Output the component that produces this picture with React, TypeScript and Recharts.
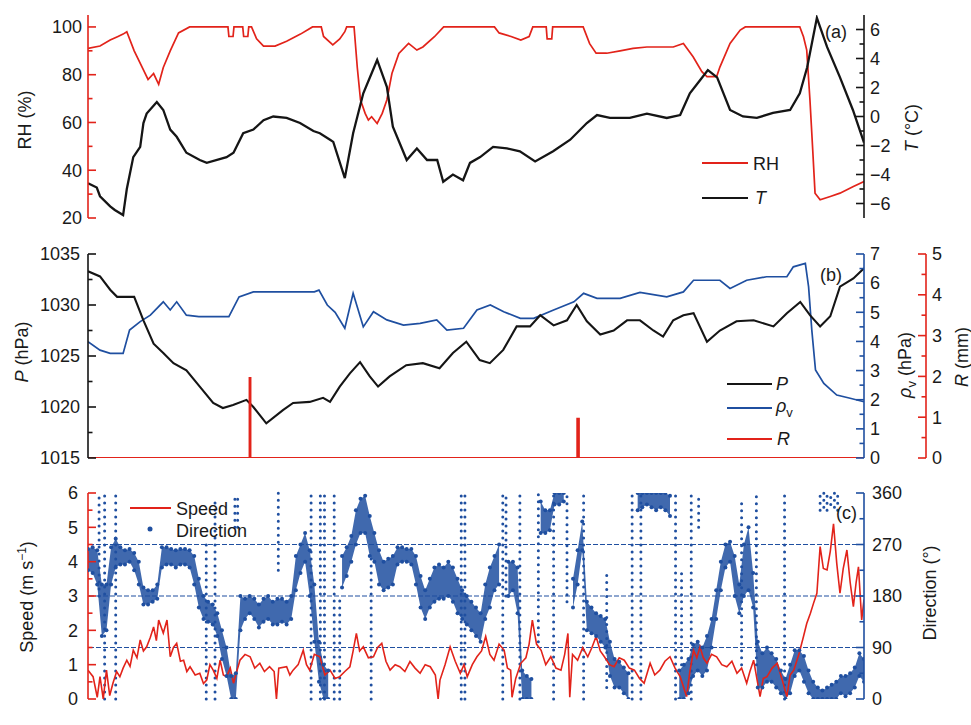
import {
  ComposedChart,
  Line,
  Area,
  Scatter,
  XAxis,
  YAxis,
  ReferenceLine,
} from "recharts";

const RED = "#e2231a";
const BLUE = "#1f4fa0";
const INK = "#151515";
const TEXT = "#1a1a1a";
const FONT = '"Liberation Sans", Arial, Helvetica, sans-serif';
const W = 971;

// time axis: hours after 1 Dec 00:00
const hourTicks = [0, 12, 24, 36, 48, 60, 72, 84, 96, 108, 120, 132, 144, 156, 168];
const dayNames = ["1 Dec", "2 Dec", "3 Dec", "4 Dec", "5 Dec", "6 Dec", "7 Dec", "8 Dec"];

const rhTicks = [20, 30, 40, 50, 60, 70, 80, 90, 100];
const tTicks = [-6, -5, -4, -3, -2, -1, 0, 1, 2, 3, 4, 5, 6];
const pTicks = [1015, 1017.5, 1020, 1022.5, 1025, 1027.5, 1030, 1032.5, 1035];
const rhoTicks = [0, 0.5, 1, 1.5, 2, 2.5, 3, 3.5, 4, 4.5, 5, 5.5, 6, 6.5, 7];
const rainTicks = [0, 0.5, 1, 1.5, 2, 2.5, 3, 3.5, 4, 4.5, 5];
const speedTicks = [0, 0.5, 1, 1.5, 2, 2.5, 3, 3.5, 4, 4.5, 5, 5.5, 6];
const dirTicks = [0, 45, 90, 135, 180, 225, 270, 315, 360];
const dirGrid = [90, 180, 270];

// (a) relative humidity, %
const rhHours = [
  0, 2.6, 4.8, 6.5, 7.6, 8.4, 10, 12, 13, 14.2,
  15.3, 16.3, 17.8, 19.6, 22, 30.3, 30.5, 31.4, 31.6, 33.5,
  33.7, 34.6, 34.8, 35.4, 36.5, 38, 40.5, 43, 46, 48.6,
  50.5, 51, 53, 54.5, 55.6, 56, 57.6, 58.3, 59, 60,
  60.7, 61.4, 62.6, 63.7, 64.7, 65.8, 67.3, 69.4, 71.2, 72.5,
  75, 77, 88, 89, 91.6, 93.7, 95.5, 96.3, 99.2, 99.4,
  100.4, 100.6, 107.2, 108.6, 110, 112.3, 115.2, 118, 121, 126.7,
  128.9, 131, 132.9, 134, 136.1, 136.8, 139, 141.2, 142.3, 154.1,
  154.9, 155.6, 156.3, 156.9, 157.4, 158.5, 160.7, 162.8, 165.7, 168,
];
const rhValues = [
  91, 92, 94.5, 96, 97, 98, 90, 82, 78, 80.5,
  76, 83, 90, 97.5, 100, 100, 96, 96, 100, 100,
  96, 96, 100, 100, 95, 92, 92, 94, 97, 100,
  100, 96, 92.5, 95, 98, 100, 100, 83, 69.4, 63.8,
  61, 62.4, 59.6, 63.8, 69.4, 80.5, 88.9, 93.1, 90.3, 91.6,
  95.9, 100, 100, 97.5, 96, 94.5, 96, 100, 100, 95,
  95, 100, 100, 93, 89, 89, 90, 91, 91.6, 91.6,
  93.1, 87.5, 81.3, 79.2, 79.2, 83.2, 93.1, 98.7, 100, 100,
  95.9, 90.3, 69.4, 48.5, 30.4, 27.6, 29, 30.4, 33.2, 35.3,
];

// (a) temperature, °C
const tHours = [
  0, 1.9, 2.6, 4.8, 5.8, 7.6, 8.4, 9.8, 11.3, 12,
  12.7, 14.9, 16.3, 17.8, 19.2, 21.3, 24.2, 25.7, 30, 31.5,
  33.6, 35.8, 38, 40.1, 43, 45.9, 48.8, 50.2, 52.4, 53.1,
  55.6, 57.4, 59.6, 62.6, 64.7, 66, 69, 71.2, 73.4, 75.6,
  76.9, 79, 81.2, 82.7, 84.9, 87.7, 90.7, 93.5, 96.8, 100.7,
  104.4, 108, 110.2, 113, 117.3, 121, 125.3, 128.2, 130.3, 132.5,
  134.2, 136.2, 139, 141.8, 144.8, 148.3, 152, 154.1, 155.7, 157.8,
  160, 162.8, 165.6, 168,
];
const tValues = [
  -4.6, -4.9, -5.5, -6.2, -6.45, -6.8, -5.0, -2.8, -2.1, -0.45,
  0.2, 1.0, 0.45, -0.9, -1.4, -2.5, -3.0, -3.2, -2.8, -2.5,
  -1.15, -0.9, -0.25, 0.0, -0.1, -0.45, -1.0, -1.15, -1.6, -1.75,
  -4.25, -1.15, 1.6, 3.9, 2.05, -0.7, -3.0, -2.2, -3.0, -3.0,
  -4.5, -4.0, -4.4, -3.2, -2.8, -2.1, -2.2, -2.4, -3.1, -2.4,
  -1.6, -0.45, 0.1, -0.1, -0.1, 0.2, -0.1, 0.1, 1.6, 2.5,
  3.2, 2.7, 0.45, 0.0, -0.1, 0.25, 0.45, 1.6, 3.4, 6.8,
  4.8, 2.7, 0.45, -1.8,
];

// (b) pressure, hPa
const pHours = [
  0, 2.6, 4.8, 6.3, 10, 12, 14.2, 16.3, 18.5, 21.3,
  24.2, 27.1, 29.2, 31.4, 34.3, 35.8, 38.6, 42.2, 44.4, 48,
  50.9, 52.4, 54.5, 56.7, 58.9, 61, 62.8, 65.3, 68.9, 72.5,
  76.1, 79, 81.9, 84.8, 87, 89.9, 92.8, 95.7, 97.9, 100.8,
  103.7, 105.8, 108, 110.9, 113.8, 116.7, 119.5, 122.4, 124.5, 126.7,
  128.9, 131.1, 134, 136.8, 140.4, 144.1, 148.4, 151.3, 154.2, 156.3,
  158.5, 160.7, 162.8, 165.7, 168,
];
const pValues = [
  1033.3, 1032.8, 1031.5, 1030.8, 1030.8, 1028.5, 1026.2, 1025.3, 1024.3, 1023.6,
  1022.0, 1020.4, 1019.9, 1020.2, 1020.7, 1020.0, 1018.4, 1019.7, 1020.4, 1020.5,
  1020.9, 1020.5, 1022.0, 1023.3, 1024.4, 1023.0, 1022.0, 1023.0, 1024.1, 1024.3,
  1023.8, 1025.3, 1026.4, 1024.6, 1024.3, 1025.6, 1027.9, 1027.9, 1029.0, 1028.0,
  1028.5, 1030.0, 1028.4, 1027.1, 1027.5, 1028.5, 1028.5, 1027.5, 1026.9, 1028.5,
  1029.0, 1029.2, 1026.4, 1027.5, 1028.4, 1028.5, 1027.9, 1029.2, 1030.3, 1029.0,
  1027.9, 1028.9, 1031.8, 1032.6, 1033.6,
];

// (b) vapour pressure, hPa
const rhoHours = [
  0, 2.6, 4.8, 7.6, 9, 11.3, 13.5, 16.3, 17.8, 19.2,
  21.3, 24, 30.5, 32.7, 35.8, 49, 50, 51.8, 53.5, 55.6,
  57.4, 59.6, 61.8, 64.7, 68.3, 71.9, 75.5, 77.7, 81.3, 84.2,
  87.1, 90, 93.6, 96.5, 100.8, 105.2, 107.3, 110.2, 115.2, 119.5,
  125.3, 128.9, 131.1, 136.8, 139, 142.6, 146.9, 151.3, 152.7, 155.3,
  156, 156.7, 157.5, 159.3, 162.1, 165, 168,
];
const rhoValues = [
  3.99, 3.7, 3.59, 3.59, 4.39, 4.68, 4.9, 5.36, 5.08, 5.36,
  4.9, 4.85, 4.85, 5.53, 5.7, 5.7, 5.76, 5.25, 5.0, 4.45,
  5.65, 4.5, 5.02, 4.74, 4.56, 4.62, 4.74, 4.39, 4.45, 5.08,
  5.25, 5.02, 4.79, 4.79, 5.08, 5.36, 5.65, 5.48, 5.48, 5.68,
  5.53, 5.7, 6.1, 6.1, 5.82, 6.1, 6.22, 6.22, 6.56, 6.68,
  5.88, 4.39, 3.02, 2.56, 2.16, 2.05, 1.93,
];

// (b) rain, mm
const rainHours = [0, 35.0, 35.0, 35.15, 35.15, 105.95, 105.95, 106.25, 106.25, 168];
const rainValues = [0, 0, 1.96, 1.96, 0, 0, 0.96, 0.96, 0, 0];

// (c) wind speed, m/s
const speedHours = [
  0, 1.1, 2.0, 2.6, 3.3, 4, 4.7, 5.4, 6.2, 6.9, 7.6, 8.4, 9.1, 9.8, 10.6, 11.3, 12, 12.7, 13.5, 14.2,
  14.8, 15.3, 16.3, 17.1, 17.8, 18.5, 19.2, 20, 20.7, 21.4, 22.1, 23.2, 24.2, 25, 25.7, 26.4, 27.1, 27.9, 28.6, 29.3,
  30, 30.8, 31.5, 32.2, 32.9, 34, 35.1, 36.1, 37.2, 38.2, 39.3, 40.3, 40.8, 41.3, 43, 43.7, 44.4, 45.5, 46.6, 47.3,
  48, 49, 50.2, 51.3, 52.4, 53.5, 54.5, 55.6, 56.7, 57.4, 58.1, 58.8, 59.6, 60.7, 61.8, 62.7, 63.6, 64.5, 65.4, 66.5,
  67.5, 68.6, 69.7, 70.8, 71.9, 73, 74.1, 75.2, 75.8, 76.2, 77.3, 78.4, 79.5, 80.6, 81.4, 82.1, 83.2, 84.2, 85.2, 86.1,
  87, 87.9, 89, 90.1, 90.8, 91.5, 91.8, 92.6, 93.7, 94.8, 95.5, 96.2, 97.1, 98.1, 99.1, 100.2, 101.3, 102.4, 103.2, 103.9,
  104.3, 104.9, 106, 107.1, 108.2, 109.1, 110, 110.9, 111.8, 112.9, 113.9, 115, 116.1, 117.2, 118.3, 119.4, 120.4, 121.7, 122.7, 123.8,
  124.9, 126, 127.1, 128.2, 129.6, 130.3, 131.1, 131.8, 132.5, 133.2, 134, 135, 136.1, 137.2, 138.3, 139.4, 140.5, 141.5, 142.6, 143.3,
  144.1, 145.5, 146.2, 147, 148.1, 149.2, 150.2, 151.3, 152, 152.8, 153.9, 154.9, 155.6, 156.4, 157.1, 157.8, 158.5, 159.2, 160, 160.7,
  161.4, 162.1, 162.8, 163.5, 164.3, 165, 165.7, 166.3, 166.8, 167.5, 168,
];
const speedValues = [
  0.84, 0.65, 0.05, 0.65, 0.0, 0.84, 0.1, 0.46, 0.8, 0.65, 0.9, 1.13, 0.95, 1.42, 1.2, 1.72, 1.4, 1.52, 1.8, 2.1,
  1.7, 2.3, 1.92, 2.3, 1.23, 1.5, 1.62, 1.1, 1.13, 0.8, 0.94, 0.7, 0.75, 0.45, 0.55, 1.0, 0.84, 0.6, 1.13, 0.7,
  0.65, 0.9, 0.46, 0.8, 1.13, 1.3, 1.23, 0.9, 1.04, 0.8, 0.94, 0.8, 0.0, 0.9, 0.94, 0.7, 0.84, 1.0, 1.42, 1.0,
  0.84, 1.3, 1.23, 0.7, 0.84, 0.6, 0.65, 0.8, 0.94, 1.4, 1.91, 1.4, 1.52, 1.2, 1.23, 1.5, 1.62, 1.1, 0.84, 1.0,
  0.94, 0.8, 1.09, 0.9, 0.75, 1.0, 0.94, 0.7, 0.0, 0.55, 1.0, 1.52, 1.1, 0.75, 1.0, 0.65, 1.0, 1.23, 1.4, 1.82,
  1.3, 1.13, 1.6, 1.42, 0.9, 0.84, 0.05, 0.6, 1.04, 1.2, 1.6, 2.3, 1.6, 1.42, 1.0, 1.23, 0.9, 0.84, 1.3, 1.91,
  0.05, 1.3, 1.13, 1.5, 1.23, 1.5, 1.82, 1.4, 1.23, 1.0, 0.94, 1.2, 1.13, 0.9, 0.84, 0.6, 0.46, 1.04, 0.7, 0.84,
  1.1, 1.23, 0.9, 0.65, 0.07, 0.8, 1.42, 1.2, 1.52, 1.2, 1.04, 1.3, 1.23, 1.0, 0.94, 1.1, 0.75, 0.9, 0.46, 0.8,
  1.13, 0.07, 0.6, 0.65, 0.9, 1.04, 0.6, 0.07, 0.7, 0.84, 1.3, 1.82, 2.2, 2.5, 2.8, 3.08, 4.44, 3.8, 3.76, 4.3,
  5.1, 3.95, 3.08, 3.8, 4.34, 3.4, 2.69, 3.4, 3.85, 2.3, 2.9,
];

// (c) wind direction band per hour (lower / upper edge of the dot cloud), degrees
const dirLow = [
  225, 220, 200, 110, 120, 200, 230, 235, 235, 240, 225, 200,
  165, 165, 170, 175, 230, 235, 235, 230, 235, 235, 230, 200,
  160, 140, 135, 130, 110, 70, 40, 0, 0, 120, 140, 150,
  140, 125, 135, 140, 130, 130, 135, 130, 140, 190, 220, 240,
  180, 100, 30, 0, 0, null, null, 195, 215, 240, 270, 290,
  290, 250, 240, 200, 190, 195, 200, 235, 240, 240, 235, 200,
  160, 140, 160, 170, 175, 175, 180, 170, 150, 140, 130, 120,
  110, 100, 140, 160, 190, 200, null, 180, 190, 150, 0, 0,
  0, null, 290, 290, 295, 340, 340, 345, null, 160, 200, 260,
  120, 115, 110, 100, 90, 40, 20, 20, 10, 0, null, 330,
  335, 340, 335, 330, 335, 330, 320, null, 0, 0, 10, 40,
  50, 40, 50, 90, 140, 190, 230, 240, 180, 150, 180, 190,
  160, 20, 20, 30, 30, 20, 10, 0, 10, 40, 50, 30,
  10, 0, 0, 0, 0, 0, 0, 10, 5, 10, 20, 40, 30,
];
const dirHigh = [
  262, 265, 260, 200, 200, 265, 280, 265, 260, 262, 255, 240,
  195, 190, 190, 200, 265, 265, 262, 260, 262, 262, 260, 250,
  210, 180, 170, 165, 150, 120, 90, 40, 45, 180, 175, 180,
  175, 165, 175, 180, 170, 175, 175, 170, 180, 250, 270, 290,
  260, 200, 100, 60, 50, null, null, 250, 265, 285, 330, 350,
  355, 320, 290, 260, 240, 245, 250, 265, 265, 262, 262, 250,
  215, 190, 210, 230, 235, 230, 240, 230, 210, 190, 180, 170,
  160, 150, 200, 230, 250, 270, null, 240, 240, 230, 50, 40,
  35, null, 345, 330, 330, 360, 360, 360, null, 210, 260, 310,
  170, 160, 150, 145, 140, 100, 70, 65, 55, 45, null, 360,
  360, 360, 360, 360, 360, 360, 355, null, 50, 60, 70, 95,
  100, 90, 110, 140, 190, 240, 270, 275, 250, 200, 270, 300,
  220, 100, 80, 90, 80, 70, 50, 35, 60, 85, 85, 75,
  50, 30, 20, 15, 20, 25, 30, 40, 40, 45, 55, 80, 70,
];

// (c) dotted streaks where the direction wraps through 0/360
const streakHours = [
  2.4, 3.6, 6.0, 25.6, 27.5, 31.8, 32.4, 41.2, 48.3, 50.3,
  51.2, 53.3, 54.5, 61.3, 80.8, 81.6, 89.8, 90.5, 93.5, 97.5,
  100.8, 103.7, 107.3, 112.3, 117.8, 119.7, 127.2, 128.5, 130.6, 132.2,
  141.5, 144.7, 150.8, 158.5, 159.3, 160.0, 160.8, 161.6, 162.3,
];
const streakLow = [
  180, 0, 0, 0, 0, 300, 300, 225, 0, 0,
  0, 0, 0, 0, 0, 0, 0, 180, 0, 100,
  0, 170, 0, 20, 0, 0, 0, 60, 0, 300,
  60, 60, 0, 330, 335, 330, 340, 335, 330,
];
const streakHigh = [
  360, 360, 355, 280, 350, 360, 360, 360, 355, 360,
  360, 360, 180, 250, 360, 360, 360, 360, 360, 360,
  360, 360, 360, 225, 360, 360, 360, 230, 360, 360,
  345, 360, 360, 360, 360, 360, 360, 360, 360,
];

const zip = (hs: number[], vs: number[]) => hs.map((h, i) => ({ h, v: vs[i] }));

const rhData = zip(rhHours, rhValues);
const tData = zip(tHours, tValues);
const pData = zip(pHours, pValues);
const rhoData = zip(rhoHours, rhoValues);
const rainData = zip(rainHours, rainValues);
const speedData = zip(speedHours, speedValues);
const dirBand = dirLow.map((lo, i) => ({
  h: i,
  band: lo == null || dirHigh[i] == null ? null : [lo, dirHigh[i]],
}));
const dirDots = dirBand.flatMap((p) =>
  p.band ? [{ h: p.h, d: p.band[0] }, { h: p.h, d: p.band[1] }] : []
);

const isMultiple = (v: number, step: number) =>
  Math.abs(v / step - Math.round(v / step)) < 1e-6;
const signed = (v: number) => (v < 0 ? "\u2212" + Math.abs(v) : String(v));

// ticks point into the plot, labels sit outside
const yTick =
  (side: "left" | "right", color: string, step: number, gap: number, fmt = signed) =>
  (props: any) => {
    const { x, y, payload } = props;
    const v = Number(payload.value);
    const major = isMultiple(v, step);
    const dir = side === "left" ? 1 : -1;
    return (
      <g>
        <line x1={x} y1={y} x2={x + dir * (major ? 8 : 4.5)} y2={y} stroke={color} strokeWidth={1.6} />
        {major && (
          <text
            x={x - dir * gap}
            y={y}
            dy="0.35em"
            textAnchor={side === "left" ? "end" : "start"}
            fontFamily={FONT}
            fontSize={18}
            fill={TEXT}
          >
            {fmt(v)}
          </text>
        )}
      </g>
    );
  };

const xTick = (side: "top" | "bottom", labels: boolean) => (props: any) => {
  const { x, y, payload } = props;
  const v = Number(payload.value);
  const dir = side === "bottom" ? -1 : 1;
  return (
    <g>
      <line x1={x} y1={y} x2={x} y2={y + dir * 8} stroke={INK} strokeWidth={1.6} />
      {labels && isMultiple(v, 24) && (
        <text x={x} y={y + 23} textAnchor="middle" fontFamily={FONT} fontSize={18} fill={TEXT}>
          {dayNames[Math.round(v / 24)]}
        </text>
      )}
    </g>
  );
};

const timeAxes = (bottomColor: string, labels: boolean) => [
  <XAxis
    key="xb"
    xAxisId="b"
    type="number"
    dataKey="h"
    domain={[0, 168]}
    ticks={hourTicks}
    interval={0}
    allowDataOverflow
    height={0}
    tickSize={0}
    tickMargin={0}
    tickLine={false}
    axisLine={{ stroke: bottomColor, strokeWidth: 1.6 }}
    tick={xTick("bottom", labels)}
  />,
  <XAxis
    key="xt"
    xAxisId="t"
    orientation="top"
    type="number"
    dataKey="h"
    domain={[0, 168]}
    ticks={hourTicks}
    interval={0}
    allowDataOverflow
    height={0}
    tickSize={0}
    tickMargin={0}
    tickLine={false}
    axisLine={{ stroke: INK, strokeWidth: 1.6 }}
    tick={xTick("top", false)}
  />,
];

const yCommon = {
  type: "number" as const,
  interval: 0 as const,
  allowDataOverflow: true,
  tickSize: 0,
  tickMargin: 0,
  tickLine: false,
};

const PanelA = () => (
  <ComposedChart width={W} height={240} margin={{ top: 15, right: 0, bottom: 22, left: 0 }}>
    {timeAxes(INK, false)}
    <YAxis
      {...yCommon}
      yAxisId="rh"
      width={88}
      domain={[20, 105]}
      ticks={rhTicks}
      axisLine={{ stroke: RED, strokeWidth: 1.6 }}
      tick={yTick("left", RED, 20, 6)}
    />
    <YAxis
      {...yCommon}
      yAxisId="t"
      orientation="right"
      width={107}
      domain={[-7, 7]}
      ticks={tTicks}
      axisLine={{ stroke: INK, strokeWidth: 1.6 }}
      tick={yTick("right", INK, 2, 6)}
    />
    <Line xAxisId="b" yAxisId="rh" data={rhData} dataKey="v" type="linear" stroke={RED} strokeWidth={1.7} dot={false} isAnimationActive={false} />
    <Line xAxisId="b" yAxisId="t" data={tData} dataKey="v" type="linear" stroke={INK} strokeWidth={2.3} dot={false} isAnimationActive={false} />
  </ComposedChart>
);

// right axes on the same side are stacked by id: "vp" next to the plot, "zr" outside it
const PanelB = () => (
  <ComposedChart width={W} height={240} margin={{ top: 14, right: 0, bottom: 22, left: 0 }}>
    {timeAxes(RED, false)}
    <YAxis
      {...yCommon}
      yAxisId="p"
      width={88}
      domain={[1015, 1035]}
      ticks={pTicks}
      axisLine={{ stroke: INK, strokeWidth: 1.6 }}
      tick={yTick("left", INK, 5, 8)}
    />
    <YAxis
      {...yCommon}
      yAxisId="vp"
      orientation="right"
      width={62}
      domain={[0, 7]}
      ticks={rhoTicks}
      axisLine={{ stroke: BLUE, strokeWidth: 1.6 }}
      tick={yTick("right", BLUE, 1, 6)}
    />
    <YAxis
      {...yCommon}
      yAxisId="zr"
      orientation="right"
      width={45}
      domain={[0, 5]}
      ticks={rainTicks}
      axisLine={{ stroke: RED, strokeWidth: 1.6 }}
      tick={yTick("right", RED, 1, 6)}
    />
    <Line xAxisId="b" yAxisId="vp" data={rhoData} dataKey="v" type="linear" stroke={BLUE} strokeWidth={1.7} dot={false} isAnimationActive={false} />
    <Line xAxisId="b" yAxisId="p" data={pData} dataKey="v" type="linear" stroke={INK} strokeWidth={2.1} dot={false} isAnimationActive={false} />
    <Line xAxisId="b" yAxisId="zr" data={rainData} dataKey="v" type="linear" stroke={RED} strokeWidth={2.2} dot={false} isAnimationActive={false} />
  </ComposedChart>
);

const PanelC = () => (
  <ComposedChart width={W} height={245} margin={{ top: 13, right: 0, bottom: 26, left: 0 }}>
    {timeAxes(INK, true)}
    <YAxis
      {...yCommon}
      yAxisId="spd"
      width={88}
      domain={[0, 6]}
      ticks={speedTicks}
      axisLine={{ stroke: RED, strokeWidth: 1.6 }}
      tick={yTick("left", RED, 1, 10)}
    />
    <YAxis
      {...yCommon}
      yAxisId="dir"
      orientation="right"
      width={107}
      domain={[0, 360]}
      ticks={dirTicks}
      axisLine={{ stroke: BLUE, strokeWidth: 1.6 }}
      tick={yTick("right", BLUE, 90, 8)}
    />
    {dirGrid.map((g) => (
      <ReferenceLine key={g} xAxisId="b" yAxisId="dir" y={g} stroke={BLUE} strokeWidth={1.2} strokeDasharray="5 2" />
    ))}
    <Area
      xAxisId="b"
      yAxisId="dir"
      data={dirBand}
      dataKey="band"
      type="linear"
      stroke="none"
      fill={BLUE}
      fillOpacity={0.85}
      connectNulls={false}
      isAnimationActive={false}
    />
    <Scatter
      xAxisId="b"
      yAxisId="dir"
      data={dirDots}
      dataKey="d"
      fill={BLUE}
      isAnimationActive={false}
      shape={(p: any) => <circle cx={p.cx} cy={p.cy} r={2} fill={BLUE} />}
    />
    {streakHours.map((h, i) => (
      <ReferenceLine
        key={"s" + i}
        xAxisId="b"
        yAxisId="dir"
        segment={[
          { x: h, y: streakLow[i] },
          { x: h, y: streakHigh[i] },
        ]}
        stroke={BLUE}
        strokeWidth={3}
        strokeLinecap="round"
        strokeDasharray="0 7"
      />
    ))}
    <Line xAxisId="b" yAxisId="spd" data={speedData} dataKey="v" type="linear" stroke={RED} strokeWidth={1.6} dot={false} isAnimationActive={false} />
  </ComposedChart>
);

const Annotations = () => (
  <svg
    width={W}
    height={725}
    style={{ position: "absolute", left: 0, top: 0, pointerEvents: "none" }}
    fontFamily={FONT}
    fontSize={18}
    fill={TEXT}
  >
    {/* axis titles */}
    <text transform="translate(25,120) rotate(-90)" textAnchor="middle" dy="0.35em">RH (%)</text>
    <text transform="translate(912,128) rotate(-90)" textAnchor="middle" dy="0.35em">
      <tspan fontStyle="italic">T</tspan> (°C)
    </text>
    <text transform="translate(22,352) rotate(-90)" textAnchor="middle" dy="0.35em">
      <tspan fontStyle="italic">P</tspan> (hPa)
    </text>
    <text transform="translate(905,365) rotate(-90)" textAnchor="middle" dy="0.35em">
      <tspan fontStyle="italic">ρ</tspan>
      <tspan fontSize={13} dy={5}>v</tspan>
      <tspan dy={-5}> (hPa)</tspan>
    </text>
    <text transform="translate(962,357) rotate(-90)" textAnchor="middle" dy="0.35em">
      <tspan fontStyle="italic">R</tspan> (mm)
    </text>
    <text transform="translate(27,597) rotate(-90)" textAnchor="middle" dy="0.35em">
      Speed (m s<tspan fontSize={12} dy={-7}>−1</tspan>
      <tspan dy={7}>)</tspan>
    </text>
    <text transform="translate(930,593) rotate(-90)" textAnchor="middle" dy="0.35em">Direction (°)</text>

    {/* panel tags */}
    <text x={825} y={38}>(a)</text>
    <text x={820} y={281}>(b)</text>
    <text x={836} y={519}>(c)</text>

    {/* legend (a) */}
    <line x1={702} y1={163} x2={748} y2={163} stroke={RED} strokeWidth={2} />
    <text x={753} y={170}>RH</text>
    <line x1={702} y1={198} x2={748} y2={198} stroke={INK} strokeWidth={2} />
    <text x={755} y={204} fontStyle="italic">T</text>

    {/* legend (b) */}
    <line x1={727} y1={384} x2={772} y2={384} stroke={INK} strokeWidth={2} />
    <text x={776} y={390} fontStyle="italic">P</text>
    <line x1={727} y1={408} x2={772} y2={408} stroke={BLUE} strokeWidth={2} />
    <text x={776} y={412} fontStyle="italic">
      ρ<tspan fontSize={13} fontStyle="normal" dy={5}>v</tspan>
    </text>
    <line x1={727} y1={439} x2={772} y2={439} stroke={RED} strokeWidth={2} />
    <text x={777} y={445} fontStyle="italic">R</text>

    {/* legend (c) */}
    <line x1={130} y1={508} x2={171} y2={508} stroke={RED} strokeWidth={2} />
    <text x={176} y={515}>Speed</text>
    <circle cx={150} cy={529} r={2.5} fill={BLUE} />
    <text x={176} y={537}>Direction</text>
  </svg>
);

export default function App() {
  return (
    <div style={{ position: "absolute", left: 0, top: 0, width: W, height: 725, background: "#fff" }}>
      <div style={{ position: "absolute", left: 0, top: 0 }}>
        <PanelA />
      </div>
      <div style={{ position: "absolute", left: 0, top: 240 }}>
        <PanelB />
      </div>
      <div style={{ position: "absolute", left: 0, top: 480 }}>
        <PanelC />
      </div>
      <Annotations />
    </div>
  );
}
